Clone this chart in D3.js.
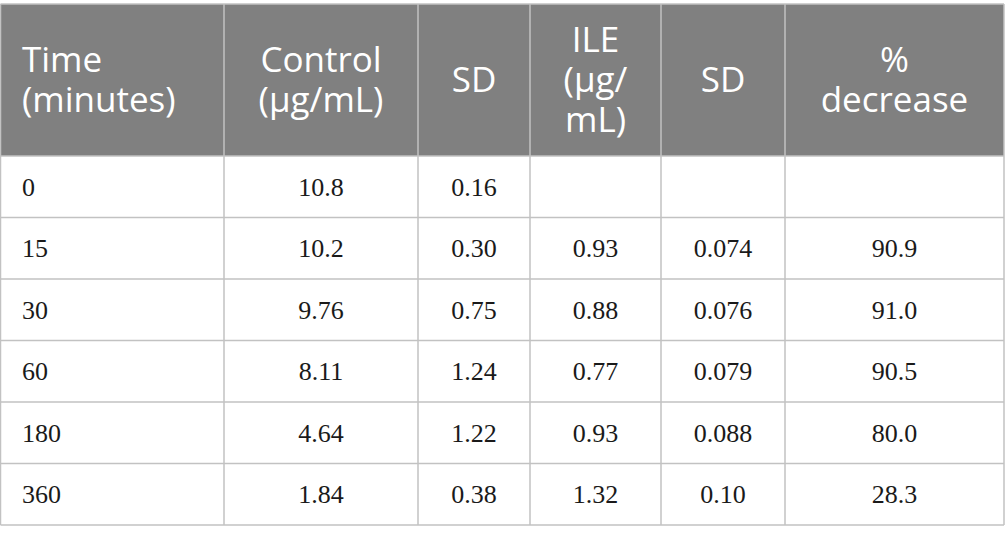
<!DOCTYPE html>
<html>
<head>
<meta charset="utf-8">
<script src="https://cdn.jsdelivr.net/npm/d3@7"></script>
<style>
  html, body { margin: 0; padding: 0; background: #fff; }
  svg { display: block; }
</style>
</head>
<body>
<svg id="chart" width="1005" height="543"></svg>
<script>
// ---- data ----
const headers = [["Time", "(minutes)"], ["Control", "(μg/mL)"], ["SD"], ["ILE", "(μg/", "mL)"], ["SD"], ["%", "decrease"]];
const times = ["0", "15", "30", "60", "180", "360"];
const control = ["10.8", "10.2", "9.76", "8.11", "4.64", "1.84"];
const controlSD = ["0.16", "0.30", "0.75", "1.24", "1.22", "0.38"];
const ile = ["", "0.93", "0.88", "0.77", "0.93", "1.32"];
const ileSD = ["", "0.074", "0.076", "0.079", "0.088", "0.10"];
const pctDecrease = ["", "90.9", "91.0", "90.5", "80.0", "28.3"];

// ---- layout ----
const colEdges = [0.5, 224, 418, 530, 661, 785, 1004];
const tableTop = 4, headerBottom = 156, tableBottom = 525;
const headerBg = "#808080", gridColor = "#c2c2c2";

const columns = [times, control, controlSD, ile, ileSD, pctDecrease];
const svg = d3.select("#chart");

const y = d3.scaleBand().domain(d3.range(times.length)).range([headerBottom, tableBottom]);

// header background
svg.append("rect").attr("x", colEdges[0]).attr("y", tableTop)
  .attr("width", colEdges[colEdges.length - 1] - colEdges[0]).attr("height", headerBottom - tableTop)
  .attr("fill", headerBg);

// header text
const lineH = 40;
const headerMid = (tableTop + headerBottom) / 2;
headers.forEach((lines, c) => {
  const left = c === 0;
  const x = left ? colEdges[c] + 21.5 : (colEdges[c] + colEdges[c + 1]) / 2;
  const firstBase = headerMid + 12 - (lines.length - 1) * lineH / 2;
  const t = svg.append("text")
    .attr("font-family", "'Open Sans', sans-serif")
    .attr("font-size", 35)
    .attr("fill", "#ffffff")
    .attr("text-anchor", left ? "start" : "middle");
  lines.forEach((ln, i) => {
    t.append("tspan").attr("x", x).attr("y", firstBase + i * lineH).text(ln);
  });
});

// body text
columns.forEach((col, c) => {
  const left = c === 0;
  const x = left ? colEdges[c] + 21.5 : (colEdges[c] + colEdges[c + 1]) / 2;
  svg.append("g").selectAll("text").data(col).join("text")
    .attr("x", x)
    .attr("y", (d, i) => y(i) + y.bandwidth() / 2 + 9)
    .attr("font-family", "'Liberation Serif', 'Times New Roman', serif")
    .attr("font-size", 26)
    .attr("fill", "#1a1a1a")
    .attr("text-anchor", left ? "start" : "middle")
    .text(d => d);
});

// grid lines
const hLines = [tableTop, headerBottom].concat(d3.range(1, times.length + 1).map(i => i === times.length ? tableBottom : y(i)));
svg.append("g").selectAll("line").data(hLines).join("line")
  .attr("x1", colEdges[0]).attr("x2", colEdges[colEdges.length - 1])
  .attr("y1", d => d).attr("y2", d => d)
  .attr("stroke", gridColor).attr("stroke-width", 1.5);
svg.append("g").selectAll("line").data(colEdges).join("line")
  .attr("x1", d => d).attr("x2", d => d)
  .attr("y1", tableTop).attr("y2", tableBottom)
  .attr("stroke", gridColor).attr("stroke-width", 1.5);
</script>
</body>
</html>
